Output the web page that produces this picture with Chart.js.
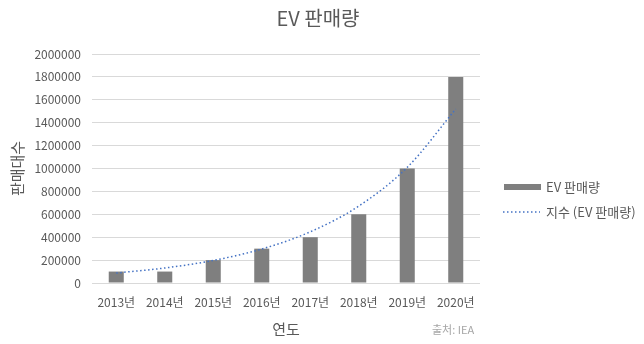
<!DOCTYPE html>
<html>
<head>
<meta charset="utf-8">
<script src="https://cdn.jsdelivr.net/npm/chart.js@4.4.1/dist/chart.umd.min.js"></script>
<style>
  html, body { margin: 0; padding: 0; background: #fff; }
  #wrap { position: relative; width: 644px; height: 344px; }
</style>
</head>
<body>
<div id="wrap"><canvas id="chart" width="644" height="344"></canvas></div>
<script>
// values
const years = ["2013년", "2014년", "2015년", "2016년", "2017년", "2018년", "2019년", "2020년"]
const evSales = [100000, 100000, 200000, 300000, 400000, 600000, 1000000, 1800000]
const trendValues = [87000, 131000, 197000, 297000, 447000, 672000, 1010000, 1520000]
const yTicks = [0, 200000, 400000, 600000, 800000, 1000000, 1200000, 1400000, 1600000, 1800000, 2000000]

const FONT = '"Noto Sans CJK KR", "Noto Sans", sans-serif'
const TEXT = "#595959"

// title, legend and source note sit outside the plot, centred on the whole canvas
const sideLegend = {
  id: "sideLegend",
  afterDraw(chart) {
    const ctx = chart.ctx
    ctx.save()
    ctx.textBaseline = "middle"

    ctx.font = "20px " + FONT
    ctx.fillStyle = TEXT
    ctx.textAlign = "center"
    ctx.fillText("EV 판매량", 318, 18)
    ctx.textAlign = "left"

    ctx.font = "13px " + FONT
    ctx.fillStyle = "#7f7f7f"
    ctx.fillRect(504, 184, 37, 6)
    ctx.fillStyle = TEXT
    ctx.fillText("EV 판매량", 546, 187)

    ctx.strokeStyle = "#4472c4"
    ctx.lineWidth = 1.5
    ctx.setLineDash([1.5, 2.5])
    ctx.beginPath()
    ctx.moveTo(503, 212)
    ctx.lineTo(540, 212)
    ctx.stroke()
    ctx.setLineDash([])
    ctx.fillText("지수 (EV 판매량)", 546, 212)

    ctx.font = "11px " + FONT
    ctx.fillStyle = "#a6a6a6"
    ctx.fillText("출처: IEA", 432, 330)
    ctx.restore()
  }
}

new Chart(document.getElementById("chart"), {
  data: {
    labels: years,
    datasets: [
      {
        type: "line",
        label: "지수 (EV 판매량)",
        data: trendValues,
        borderColor: "#4472c4",
        borderWidth: 1.5,
        borderDash: [1.5, 2.5],
        pointRadius: 0,
        fill: false,
        cubicInterpolationMode: "monotone",
        order: 0
      },
      {
        type: "bar",
        label: "EV 판매량",
        data: evSales,
        backgroundColor: "#7f7f7f",
        categoryPercentage: 1,
        barPercentage: 0.31,
        order: 1
      }
    ]
  },
  options: {
    responsive: false,
    animation: false,
    layout: { padding: { left: 0, right: 164, top: 54, bottom: 0 } },
    plugins: {
      legend: { display: false },
      tooltip: { enabled: false },
      title: { display: false }
    },
    scales: {
      x: {
        grid: { display: false, drawTicks: false },
        border: { display: false },
        ticks: { color: TEXT, font: { family: FONT, size: 12 }, padding: 12, maxRotation: 0 },
        title: {
          display: true,
          text: "연도",
          color: TEXT,
          font: { family: FONT, size: 15 },
          padding: { top: 6, bottom: 6 }
        },
        afterFit(scale) { scale.height = 61 }
      },
      y: {
        min: 0,
        max: 2000000,
        afterBuildTicks(scale) { scale.ticks = yTicks.map(v => ({ value: v })) },
        grid: { color: "#d9d9d9", drawTicks: false },
        border: { display: false },
        ticks: {
          color: TEXT,
          font: { family: FONT, size: 12 },
          padding: 11,
          callback: (v) => String(v)
        },
        title: {
          display: true,
          text: "판매대수",
          color: TEXT,
          font: { family: FONT, size: 15 },
          padding: { top: 8, bottom: 0 }
        },
        afterFit(scale) { scale.width = 92 }
      }
    }
  },
  plugins: [sideLegend]
})
</script>
</body>
</html>
